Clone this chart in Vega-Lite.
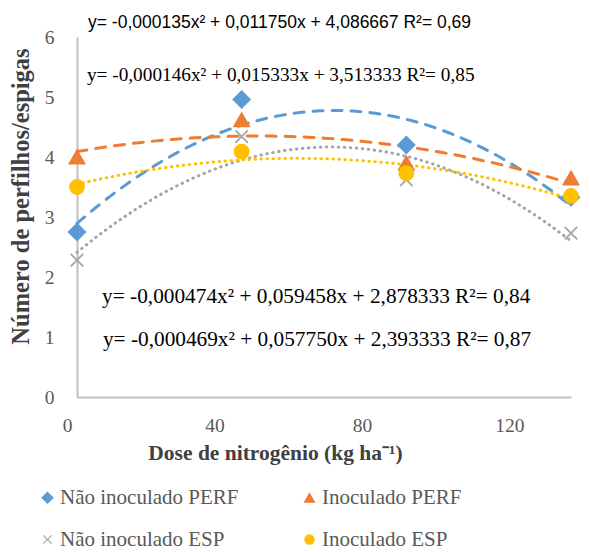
{
  "$schema": "https://vega.github.io/schema/vega-lite/v6.json",
  "width": 494,
  "height": 360,
  "autosize": {"type": "none"},
  "padding": {"left": 77, "top": 37, "right": 19, "bottom": 155},
  "background": "white",
  "config": {
    "view": {"stroke": null},
    "legend": {"labelFont": "Liberation Serif", "labelFontSize": 21, "labelColor": "#595959", "labelLimit": 400}
  },
  "data": {
    "values": [
      {"series": "Não inoculado PERF", "dose": 0, "value": 2.75},
      {"series": "Não inoculado PERF", "dose": 40, "value": 4.96},
      {"series": "Não inoculado PERF", "dose": 80, "value": 4.2},
      {"series": "Não inoculado PERF", "dose": 120, "value": 3.33},
      {"series": "Inoculado PERF", "dose": 0, "value": 4.0},
      {"series": "Inoculado PERF", "dose": 40, "value": 4.62},
      {"series": "Inoculado PERF", "dose": 80, "value": 3.9},
      {"series": "Inoculado PERF", "dose": 120, "value": 3.65},
      {"series": "Não inoculado ESP", "dose": 0, "value": 2.28},
      {"series": "Não inoculado ESP", "dose": 40, "value": 4.34},
      {"series": "Não inoculado ESP", "dose": 80, "value": 3.62},
      {"series": "Não inoculado ESP", "dose": 120, "value": 2.73},
      {"series": "Inoculado ESP", "dose": 0, "value": 3.5},
      {"series": "Inoculado ESP", "dose": 40, "value": 4.09},
      {"series": "Inoculado ESP", "dose": 80, "value": 3.73},
      {"series": "Inoculado ESP", "dose": 120, "value": 3.35}
    ]
  },
  "layer": [
    {
      "transform": [
        {"filter": "datum.series === 'Não inoculado PERF'"},
        {"regression": "value", "on": "dose", "method": "poly", "order": 2, "extent": [0, 120]}
      ],
      "mark": {"type": "line", "strokeWidth": 3, "strokeCap": "round", "color": "#5B9BD5", "strokeDash": [10, 9]},
      "encoding": {
        "x": {
          "field": "dose", "type": "quantitative",
          "scale": {"domain": [0, 120], "nice": false, "zero": false},
          "axis": {
            "values": [0, 40, 80, 120], "ticks": false, "grid": false,
            "domainColor": "#BFBFBF", "domainWidth": 2,
            "labelFont": "Liberation Serif", "labelFontSize": 19.5, "labelColor": "#595959",
            "labelPadding": 19, "labelFlush": false, "labelOverlap": false, "format": ".0f",
            "labelOffset": {"expr": "-10 - 0.43*datum.value"},
            "title": "Dose de nitrogênio (kg ha⁻¹)",
            "titleFont": "Liberation Serif", "titleFontSize": 21.5, "titleFontWeight": "bold",
            "titleColor": "#404040", "titleX": 198, "titleY": 56, "titleBaseline": "middle"
          }
        },
        "y": {
          "field": "value", "type": "quantitative",
          "scale": {"domain": [0, 6], "nice": false},
          "axis": {
            "values": [0, 1, 2, 3, 4, 5, 6], "ticks": false, "grid": false,
            "domainColor": "#BFBFBF", "domainWidth": 2, "format": ".0f",
            "labelFont": "Liberation Serif", "labelFontSize": 19.5, "labelColor": "#595959",
            "labelPadding": 23,
            "title": "Número de perfilhos/espigas",
            "titleFont": "Liberation Serif", "titleFontSize": 24.5, "titleFontWeight": "bold",
            "titleColor": "#404040", "titleX": -49, "titleY": 159, "titleBaseline": "alphabetic"
          }
        }
      }
    },
    {
      "transform": [
        {"filter": "datum.series === 'Inoculado PERF'"},
        {"regression": "value", "on": "dose", "method": "poly", "order": 2, "extent": [0, 120]}
      ],
      "mark": {"type": "line", "strokeWidth": 3, "strokeCap": "round", "color": "#ED7D31", "strokeDash": [10, 9]},
      "encoding": {"x": {"field": "dose", "type": "quantitative"}, "y": {"field": "value", "type": "quantitative"}}
    },
    {
      "transform": [
        {"filter": "datum.series === 'Não inoculado ESP'"},
        {"regression": "value", "on": "dose", "method": "poly", "order": 2, "extent": [0, 120]}
      ],
      "mark": {"type": "line", "strokeWidth": 3, "strokeCap": "round", "color": "#A5A5A5", "strokeDash": [0.5, 5.5]},
      "encoding": {"x": {"field": "dose", "type": "quantitative"}, "y": {"field": "value", "type": "quantitative"}}
    },
    {
      "transform": [
        {"filter": "datum.series === 'Inoculado ESP'"},
        {"regression": "value", "on": "dose", "method": "poly", "order": 2, "extent": [0, 120]}
      ],
      "mark": {"type": "line", "strokeWidth": 3, "strokeCap": "round", "color": "#FFC000", "strokeDash": [0.5, 5.5]},
      "encoding": {"x": {"field": "dose", "type": "quantitative"}, "y": {"field": "value", "type": "quantitative"}}
    },
    {
      "mark": {"type": "point", "filled": true, "opacity": 1, "size": 250},
      "encoding": {
        "x": {"field": "dose", "type": "quantitative"},
        "y": {"field": "value", "type": "quantitative"},
        "color": {
          "field": "series", "type": "nominal",
          "scale": {
            "domain": ["Não inoculado PERF", "Inoculado PERF", "Não inoculado ESP", "Inoculado ESP"],
            "range": ["#5B9BD5", "#ED7D31", "#A5A5A5", "#FFC000"]
          },
          "legend": {
            "title": null, "orient": "none", "legendX": -40, "legendY": 450,
            "direction": "horizontal",
            "columns": 2, "columnPadding": 60, "rowPadding": 20,
            "labelFont": "Liberation Serif", "labelFontSize": 21, "labelColor": "#595959", "labelLimit": 400,
            "labelOffset": 2, "symbolSize": 110, "symbolOpacity": 1, "symbolStrokeWidth": 0
          }
        },
        "shape": {
          "field": "series", "type": "nominal",
          "scale": {
            "domain": ["Não inoculado PERF", "Inoculado PERF", "Não inoculado ESP", "Inoculado ESP"],
            "range": [
              "M0,-1.2L1.2,0L0,1.2L-1.2,0Z",
              "M0,-1.05L1.14,0.95L-1.14,0.95Z",
              "M-0.87,-0.71L-0.71,-0.87L0,-0.16L0.71,-0.87L0.87,-0.71L0.16,0L0.87,0.71L0.71,0.87L0,0.16L-0.71,0.87L-0.87,0.71L-0.16,0Z",
              "circle"
            ]
          }
        }
      }
    },
    {
      "data": {"values": [{"label": "y= -0,000135x² + 0,011750x + 4,086667 R²= 0,69"}]},
      "mark": {"type": "text", "font": "Liberation Sans", "fontSize": 17.5, "align": "center", "baseline": "middle", "color": "#000000"},
      "encoding": {"x": {"datum": 49.2, "type": "quantitative"}, "y": {"datum": 6.23, "type": "quantitative"}, "text": {"field": "label", "type": "nominal"}}
    },
    {
      "data": {"values": [{"label": "y= -0,000146x² + 0,015333x + 3,513333 R²= 0,85"}]},
      "mark": {"type": "text", "font": "Liberation Serif", "fontSize": 19.3, "align": "left", "baseline": "middle", "color": "#000000"},
      "encoding": {"x": {"datum": 2.4, "type": "quantitative"}, "y": {"datum": 5.37, "type": "quantitative"}, "text": {"field": "label", "type": "nominal"}}
    },
    {
      "data": {"values": [{"label": "y= -0,000474x² + 0,059458x + 2,878333 R²= 0,84"}]},
      "mark": {"type": "text", "font": "Liberation Serif", "fontSize": 21.3, "align": "left", "baseline": "middle", "color": "#000000"},
      "encoding": {"x": {"datum": 6.1, "type": "quantitative"}, "y": {"datum": 1.67, "type": "quantitative"}, "text": {"field": "label", "type": "nominal"}}
    },
    {
      "data": {"values": [{"label": "y= -0,000469x² + 0,057750x + 2,393333 R²= 0,87"}]},
      "mark": {"type": "text", "font": "Liberation Serif", "fontSize": 21.3, "align": "left", "baseline": "middle", "color": "#000000"},
      "encoding": {"x": {"datum": 6.3, "type": "quantitative"}, "y": {"datum": 0.95, "type": "quantitative"}, "text": {"field": "label", "type": "nominal"}}
    }
  ]
}
